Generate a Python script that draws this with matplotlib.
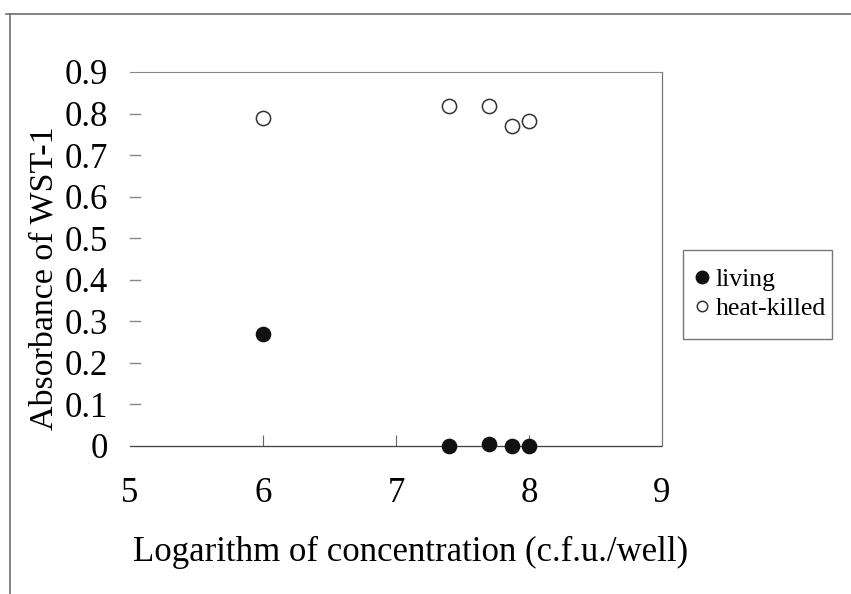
import matplotlib
matplotlib.use("Agg")
import matplotlib.pyplot as plt
from matplotlib.lines import Line2D
from matplotlib.patches import Rectangle

# Data
x_living = [6.0, 7.4, 7.7, 7.87, 8.0]
y_living = [0.27, 0.0, 0.005, 0.0, 0.0]
x_killed = [6.0, 7.4, 7.7, 7.87, 8.0]
y_killed = [0.79, 0.817, 0.818, 0.771, 0.781]
xticks = [5, 6, 7, 8, 9]
yticks = [0, 0.1, 0.2, 0.3, 0.4, 0.5, 0.6, 0.7, 0.8, 0.9]
ytick_labels = ["0", "0.1", "0.2", "0.3", "0.4", "0.5", "0.6", "0.7", "0.8", "0.9"]

plt.rcParams['font.family'] = ['Liberation Serif', 'DejaVu Serif']

W, H = 851, 594
fig = plt.figure(figsize=(W / 100, H / 100), dpi=100)

# outer frame lines
fig.add_artist(Line2D([6 / W, 1], [1 - 14 / H, 1 - 14 / H], color='#6e6e6e', lw=1.2))
fig.add_artist(Line2D([10 / W, 10 / W], [1 - 14 / H, 0], color='#6e6e6e', lw=1.2))

ax = fig.add_axes([130 / W, 1 - 446 / H, (662 - 130) / W, (446 - 72) / H])
ax.set_xlim(5, 9)
ax.set_ylim(0, 0.9)

ax.scatter(x_living, y_living, s=105, c='#111111', edgecolors='#111111', zorder=3, clip_on=False)
ax.scatter(x_killed, y_killed, s=105, facecolors='white', edgecolors='#333333', linewidths=1.1, zorder=3, clip_on=False)

ax.spines['left'].set_visible(False)
ax.spines['top'].set_linestyle((0, (1, 1)))
ax.spines['top'].set_color('#888888')
ax.spines['top'].set_linewidth(0.8)
ax.spines['bottom'].set_linestyle((0, (1, 0.6)))
ax.spines['bottom'].set_color('#444444')
ax.spines['bottom'].set_linewidth(0.9)
ax.spines['right'].set_color('#777777')
ax.spines['right'].set_linewidth(0.9)

ax.set_xticks(xticks)
ax.set_xticklabels([str(v) for v in xticks])
ax.set_yticks(yticks)
ax.set_yticklabels(ytick_labels)
ax.tick_params(axis='x', direction='in', length=8, width=0.8, color='#666666', labelsize=25, pad=22)
ax.tick_params(axis='y', direction='in', length=0, labelsize=25, pad=16)
for t in ax.xaxis.get_major_ticks():
    if t.get_loc() in (5, 9):
        t.tick1line.set_visible(False)
for y in yticks[1:-1]:
    ax.plot([5.0, 5.075], [y, y], color='#888888', lw=1.0, clip_on=False)

ax.set_xlabel("Logarithm of concentration (c.f.u./well)", fontsize=25)
ax.xaxis.set_label_coords(0.527, -0.24)
ax.set_ylabel("Absorbance of WST-1", fontsize=24.5)
ax.yaxis.set_label_coords(-0.133, 0.449)

# legend box
fig.add_artist(Rectangle((683 / W, 1 - 339 / H), (832 - 683) / W, (339 - 250) / H,
                         transform=fig.transFigure, facecolor='white', edgecolor='#777777', lw=1.0))
leg_handles = [
    Line2D([], [], marker='o', ls='none', markersize=9, markerfacecolor='#111111', markeredgecolor='#111111', label='living'),
    Line2D([], [], marker='o', ls='none', markersize=7.5, markerfacecolor='white', markeredgecolor='#333333', markeredgewidth=1.1, label='heat-killed'),
]
leg = fig.legend(handles=leg_handles, loc='upper left', bbox_to_anchor=(695 / W, 1 - 268 / H),
                 fontsize=18.5, frameon=False,
                 handletextpad=0.25, handlelength=0.55, borderpad=0, labelspacing=0.25,
                 borderaxespad=0)
leg.set_zorder(5)

fig.savefig("out.png", dpi=100)
